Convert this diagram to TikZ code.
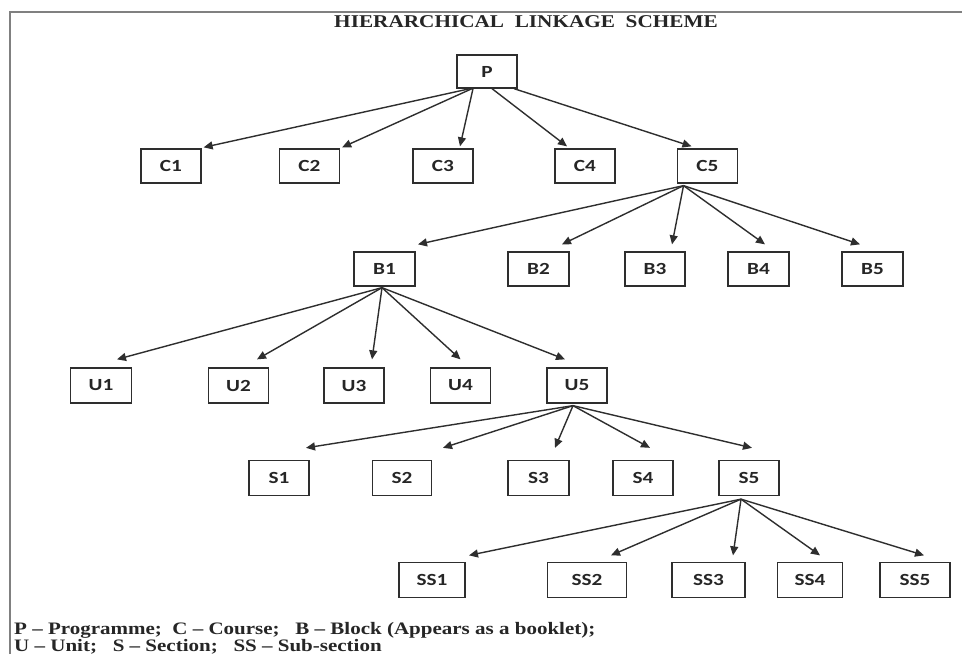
\documentclass[tikz,border=0pt]{standalone}
\usepackage{fontspec}
\usetikzlibrary{arrows.meta,calc}
\setmainfont{Liberation Serif}
\newfontfamily\boxfont[FakeStretch=1.25]{Carlito}
\newfontfamily\legfont[FakeStretch=1.2,Ligatures=TeX]{Liberation Serif}
\newfontfamily\titfont[FakeStretch=1.18]{Liberation Serif}
\definecolor{linecol}{HTML}{2E2E2E}
\definecolor{framecol}{HTML}{808080}
\tikzset{
  box/.style={draw=linecol, line width=1.3pt, fill=white, minimum height=34pt,
    inner sep=0pt, font=\boxfont\bfseries\fontsize{17}{17}\selectfont, text=black!85},
  link/.style={draw=linecol, line width=1.4pt, -{Triangle[length=9pt,width=8pt]}},
  legend/.style={anchor=base west, inner sep=0pt, font=\legfont\bfseries\fontsize{17.5}{17.5}\selectfont, text=black!85}
}
\begin{document}
\begin{tikzpicture}[x=1pt,y=-1pt]
\useasboundingbox (0,0) rectangle (962,654);
\fill[white] (0,0) rectangle (962,654);
% frame
\draw[framecol, line width=2.5pt] (10,654) -- (10,12) -- (962,12);
% title
\node[inner sep=0pt, font=\titfont\bfseries\fontsize{18}{18}\selectfont, text=black!85] (title) at (526,22) {HIERARCHICAL\ \ LINKAGE\ \ SCHEME};
% nodes
\node[box, minimum width=60pt, minimum height=33pt] (P) at (487,71.5) {P};
\node[box, minimum width=60pt] (C1) at (171,166) {C1};
\node[box, minimum width=60pt] (C2) at (309.5,166) {C2};
\node[box, minimum width=60pt] (C3) at (443,166) {C3};
\node[box, minimum width=60pt] (C4) at (585,166) {C4};
\node[box, minimum width=60pt] (C5) at (707.5,166) {C5};
\node[box, minimum width=61pt] (B1) at (384.5,269) {B1};
\node[box, minimum width=61pt] (B2) at (538.5,269) {B2};
\node[box, minimum width=60pt] (B3) at (655,269) {B3};
\node[box, minimum width=61pt] (B4) at (758.5,269) {B4};
\node[box, minimum width=61pt] (B5) at (872.5,269) {B5};
\node[box, minimum width=61pt, minimum height=35pt] (U1) at (101,385.5) {U1};
\node[box, minimum width=60pt, minimum height=35pt] (U2) at (238.5,385.5) {U2};
\node[box, minimum width=60pt, minimum height=35pt] (U3) at (354,385.5) {U3};
\node[box, minimum width=60pt, minimum height=35pt] (U4) at (460.5,385.5) {U4};
\node[box, minimum width=60pt, minimum height=35pt] (U5) at (577,385.5) {U5};
\node[box, minimum width=60pt, minimum height=35pt] (S1) at (279,478) {S1};
\node[box, minimum width=59pt, minimum height=35pt] (S2) at (402,478) {S2};
\node[box, minimum width=61pt, minimum height=35pt] (S3) at (538.5,478) {S3};
\node[box, minimum width=60pt, minimum height=35pt] (S4) at (643,478) {S4};
\node[box, minimum width=60pt, minimum height=35pt] (S5) at (749,478) {S5};
\node[box, minimum width=66pt, minimum height=35pt] (SS1) at (432,580) {SS1};
\node[box, minimum width=79pt, minimum height=35pt] (SS2) at (587,580) {SS2};
\node[box, minimum width=73pt, minimum height=35pt] (SS3) at (708.5,580) {SS3};
\node[box, minimum width=65pt, minimum height=35pt] (SS4) at (810,580) {SS4};
\node[box, minimum width=70pt, minimum height=35pt] (SS5) at (915,580) {SS5};
% connectors P -> C
\draw[link] ($(P.south)+(-17,0)$) -- ($(C1.north east)+(2,-1)$);
\draw[link] ($(P.south)+(-15,0)$) -- ($(C2.north east)+(2,-1)$);
\draw[link] ($(P.south)+(-14,0)$) -- ($(C3.north)+(17,-2)$);
\draw[link] ($(P.south)+(5,0)$) -- ($(C4.north)+(-18,-2)$);
\draw[link] ($(P.south)+(27,0)$) -- ($(C5.north)+(-16,-2)$);
% C5 -> B
\coordinate (c5o) at ($(C5.south)+(-24,2)$);
\draw[link] (c5o) -- ($(B1.north)+(33.5,-7)$);
\draw[link] (c5o) -- ($(B2.north)+(23.5,-7)$);
\draw[link] (c5o) -- ($(B3.north)+(17,-7)$);
\draw[link] (c5o) -- ($(B4.north)+(6.5,-7)$);
\draw[link] (c5o) -- ($(B5.north)+(-12.5,-7)$);
% B1 -> U
\coordinate (b1o) at ($(B1.south)+(-2.5,1)$);
\draw[link] (b1o) -- ($(U1.north)+(16,-8)$);
\draw[link] (b1o) -- ($(U2.north)+(18.5,-8)$);
\draw[link] (b1o) -- ($(U3.north)+(18,-8)$);
\draw[link] (b1o) -- ($(U4.north)+(0,-8)$);
\draw[link] (b1o) -- ($(U5.north)+(-12,-8)$);
% U5 -> S
\coordinate (u5o) at ($(U5.south)+(-4,2)$);
\draw[link] (u5o) -- ($(S1.north)+(27,-12)$);
\draw[link] (u5o) -- ($(S2.north)+(41,-12)$);
\draw[link] (u5o) -- ($(S3.north)+(16.5,-12)$);
\draw[link] (u5o) -- ($(S4.north)+(7,-12)$);
\draw[link] (u5o) -- ($(S5.north)+(3,-12)$);
% S5 -> SS
\coordinate (s5o) at ($(S5.south)+(-8,3)$);
\draw[link] (s5o) -- ($(SS1.north)+(37,-6.5)$);
\draw[link] (s5o) -- ($(SS2.north)+(24,-6.5)$);
\draw[link] (s5o) -- ($(SS3.north)+(24.5,-6.5)$);
\draw[link] (s5o) -- ($(SS4.north)+(10,-6.5)$);
\draw[link] (s5o) -- ($(SS5.north)+(9,-6.5)$);
% legend
\node[legend] (leg1) at (14,634) {P – Programme;\ \ C – Course;\ \ \ B – Block (Appears as a booklet);};
\node[legend] (leg2) at (14,651) {U – Unit;\ \ \ S – Section;\ \ \ SS – Sub-section};
\end{tikzpicture}
\end{document}
